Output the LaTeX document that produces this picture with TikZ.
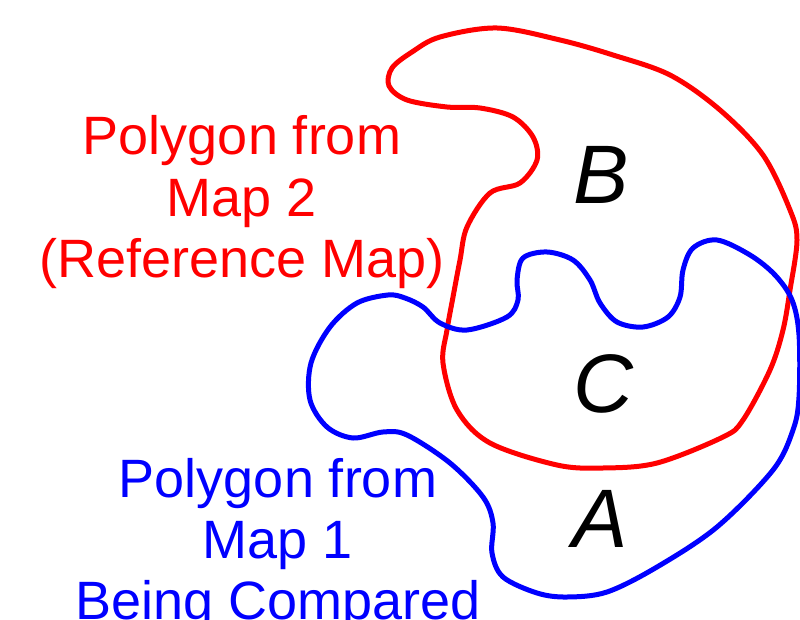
\documentclass[tikz,border=0pt]{standalone}
\usepackage{fontspec}
\setmainfont{Liberation Sans}
\begin{document}
\begin{tikzpicture}[x=1pt,y=-1pt,
  outline/.style={line width=5pt, line join=round},
  redlabel/.style={text=red, font=\fontsize{54}{61}\selectfont, anchor=base, inner sep=0pt},
  bluelabel/.style={text=blue, font=\fontsize{54}{61}\selectfont, anchor=base, inner sep=0pt},
  region/.style={font=\fontsize{83}{86}\selectfont\itshape, anchor=base, inner sep=0pt}]
\useasboundingbox (0,0) rectangle (800,620);
\clip (0,0) rectangle (800,620);

% reference map polygon
\draw[outline, red] plot[smooth cycle, tension=0.55] coordinates {
  (497,28) (560,40) (613,55) (670,75) (720,110) (763,155) (790,210) (797,240)
  (790,290) (783,330) (770,370) (743,420) (723,437) (657,463) (603,468)
  (557,465) (490,443) (457,410) (443,363) (447,330) (453,297) (460,260)
  (467,227) (490,193) (520,183) (537,160) (533,137) (513,117) (480,108)
  (447,107) (407,100) (389,86) (392,68) (412,52) (440,37)};

% compared map polygon
\draw[outline, blue] plot[smooth cycle, tension=0.55] coordinates {
  (717,240) (750,255) (775,275) (792,300) (799,335) (799,397) (793,430)
  (773,470) (717,527) (657,567) (607,592) (567,597) (537,593) (503,577)
  (492,553) (493,523) (483,497) (450,463) (407,435) (383,432) (353,438)
  (327,427) (310,400) (311,363) (330,327) (357,303) (388,295) (405,298)
  (423,307) (440,323) (467,330) (507,317) (518,300) (517,280) (523,258)
  (547,252) (573,260) (590,280) (600,303) (617,322) (643,327) (668,317)
  (680,297) (683,270) (693,248)};

% labels of the reference polygon
\node[redlabel] (r1) at (242,155) {Polygon from};
\node[redlabel] (r2) at (242,217) {Map 2};
\node[redlabel] (r3) at (242,277) {(Reference Map)};

% labels of the compared polygon
\node[bluelabel] (b1) at (278,497) {Polygon from};
\node[bluelabel] (b2) at (278,558) {Map 1};
\node[bluelabel] (b3) at (278,619) {Being Compared};

% region letters
\node[region] (B) at (601,204) {B};
\node[region] (C) at (603,412) {C};
\node[region] (A) at (600,547) {A};
\end{tikzpicture}
\end{document}
